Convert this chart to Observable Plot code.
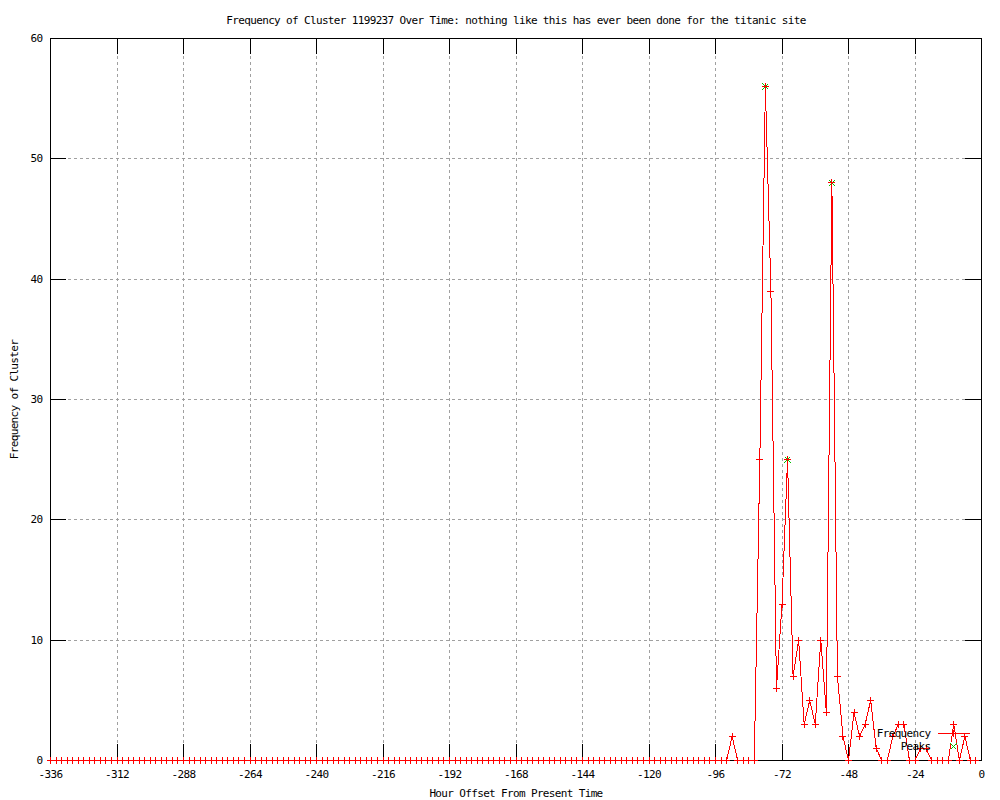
<!DOCTYPE html>
<html>
<head>
<meta charset="utf-8">
<script src="https://cdn.jsdelivr.net/npm/d3@7"></script>
<script src="https://cdn.jsdelivr.net/npm/@observablehq/plot@0.6"></script>
<style>
  html, body { margin: 0; padding: 0; background: #fff; }
  svg path, svg line, svg rect { shape-rendering: crispEdges; }
</style>
</head>
<body>
<div id="chart"></div>
<script>
const titleText = "Frequency of Cluster 1199237 Over Time: nothing like this has ever been done for the titanic site";
const xLabel = "Hour Offset From Present Time";
const yLabel = "Frequency of Cluster";

// sampling grid: one bin every 2 hours, from -336 to -2
const hours = d3.range(-336, 0, 2);

// frequency per 2-hour bin
const freq = [
  0,0,0,0,0,0,0,0,0,0,0,0,   // -336 .. -314
  0,0,0,0,0,0,0,0,0,0,0,0,   // -312 .. -290
  0,0,0,0,0,0,0,0,0,0,0,0,   // -288 .. -266
  0,0,0,0,0,0,0,0,0,0,0,0,   // -264 .. -242
  0,0,0,0,0,0,0,0,0,0,0,0,   // -240 .. -218
  0,0,0,0,0,0,0,0,0,0,0,0,   // -216 .. -194
  0,0,0,0,0,0,0,0,0,0,0,0,   // -192 .. -170
  0,0,0,0,0,0,0,0,0,0,0,0,   // -168 .. -146
  0,0,0,0,0,0,0,0,0,0,0,0,   // -144 .. -122
  0,0,0,0,0,0,0,0,0,0,0,0,   // -120 .. -98
  0,0,0,                     // -96 .. -92
  2,0,0,0,0,                 // -90 .. -82
  25,56,39,6,13,25,7,10,3,5,3,10,4,48,7,2,   // -80 .. -50
  0,4,2,3,5,1,0,0,2,3,3,0,0,1,1,0,0,0,0,3,0,2,0,0 // -48 .. -2
];

const peakHours = [-78, -70, -54];
const peakValues = [56, 25, 48];

const xTicks = [-336,-312,-288,-264,-240,-216,-192,-168,-144,-120,-96,-72,-48,-24,0];
const yTicks = [0,10,20,30,40,50,60];
const xGrid = xTicks.slice(1, -1);
const yGrid = yTicks.slice(1, -1);

const seriesNames = ["Frequency", "Peaks"];

// gnuplot-like point shapes
const plusSym = {draw(ctx, size) { const r = Math.sqrt(size / Math.PI); ctx.moveTo(-r, 0); ctx.lineTo(r, 0); ctx.moveTo(0, -r); ctx.lineTo(0, r); }};
const crossSym = {draw(ctx, size) { const r = Math.sqrt(size / Math.PI); ctx.moveTo(-r, -r); ctx.lineTo(r, r); ctx.moveTo(-r, r); ctx.lineTo(r, -r); }};
const hlineSym = {draw(ctx, size) { const r = Math.sqrt(size / Math.PI); ctx.moveTo(-r, 0); ctx.lineTo(r, 0); }};

const W = 1000, H = 800;
const mL = 50, mR = 19, mT = 38, mB = 40;
const fw = W - mL - mR, fh = H - mT - mB;
const tick = 16;
const RED = "#ff0000", GREEN = "#00c000", GRID = "#a0a0a0";
const font = "DejaVu Sans Mono";
const fs = 11;
const ls = "-0.65px";

const chart = Plot.plot({
  width: W,
  height: H,
  marginLeft: mL,
  marginRight: mR,
  marginTop: mT,
  marginBottom: mB,
  style: {background: "#fff", fontFamily: font, fontSize: fs + "px", letterSpacing: ls, color: "#000"},
  x: {domain: [-336, 0]},
  y: {domain: [0, 60]},
  marks: [
    Plot.gridX(xGrid, {stroke: GRID, strokeOpacity: 1, strokeDasharray: "3,3"}),
    Plot.gridY(yGrid, {stroke: GRID, strokeOpacity: 1, strokeDasharray: "3,3"}),
    // inward major tics on all four sides
    Plot.ruleX(xTicks, {x: d => d, insetTop: fh - tick, stroke: "#000"}),
    Plot.ruleX(xTicks, {x: d => d, insetBottom: fh - tick, stroke: "#000"}),
    Plot.ruleY(yTicks, {y: d => d, insetRight: fw - tick, stroke: "#000"}),
    Plot.ruleY(yTicks, {y: d => d, insetLeft: fw - tick, stroke: "#000"}),
    Plot.frame({stroke: "#000"}),
    Plot.axisX(xTicks, {tickSize: 0, tickPadding: 10, tickFormat: d => String(d), label: null, fontSize: fs, fontFamily: font}),
    Plot.axisY(yTicks, {tickSize: 0, tickPadding: 8, tickFormat: d => String(d), label: null, fontSize: fs, fontFamily: font}),
    // data
    Plot.line(freq, {x: hours, y: freq, stroke: RED, strokeWidth: 1}),
    Plot.dot(peakValues, {x: peakHours, y: peakValues, symbol: crossSym, r: 3, stroke: GREEN, strokeWidth: 1}),
    Plot.dot(freq, {x: hours, y: freq, symbol: plusSym, r: 3.5, stroke: RED, strokeWidth: 1}),
    // titles
    Plot.text([titleText], {text: d => d, frameAnchor: "top", dy: -18, textAnchor: "middle", lineAnchor: "middle", fontSize: fs, fontFamily: font}),
    Plot.text([xLabel], {text: d => d, frameAnchor: "bottom", dy: 33, textAnchor: "middle", lineAnchor: "middle", fontSize: fs, fontFamily: font}),
    Plot.text([yLabel], {text: d => d, frameAnchor: "left", dx: -36, rotate: -90, textAnchor: "middle", lineAnchor: "middle", fontSize: fs, fontFamily: font}),
    // key
    Plot.text([seriesNames[0]], {text: d => d, frameAnchor: "bottom-right", dx: -51, dy: -27, textAnchor: "end", lineAnchor: "middle", fontSize: fs, fontFamily: font}),
    Plot.text([seriesNames[1]], {text: d => d, frameAnchor: "bottom-right", dx: -51, dy: -14, textAnchor: "end", lineAnchor: "middle", fontSize: fs, fontFamily: font}),
    Plot.dot([seriesNames[0]], {frameAnchor: "bottom-right", dx: -28, dy: -27, symbol: hlineSym, r: 16, stroke: RED, strokeWidth: 1}),
    Plot.dot([seriesNames[0]], {frameAnchor: "bottom-right", dx: -28, dy: -27, symbol: plusSym, r: 3.5, stroke: RED, strokeWidth: 1}),
    Plot.dot([seriesNames[1]], {frameAnchor: "bottom-right", dx: -28, dy: -14, symbol: crossSym, r: 3, stroke: GREEN, strokeWidth: 1})
  ]
});

document.getElementById("chart").appendChild(chart);
</script>
</body>
</html>
